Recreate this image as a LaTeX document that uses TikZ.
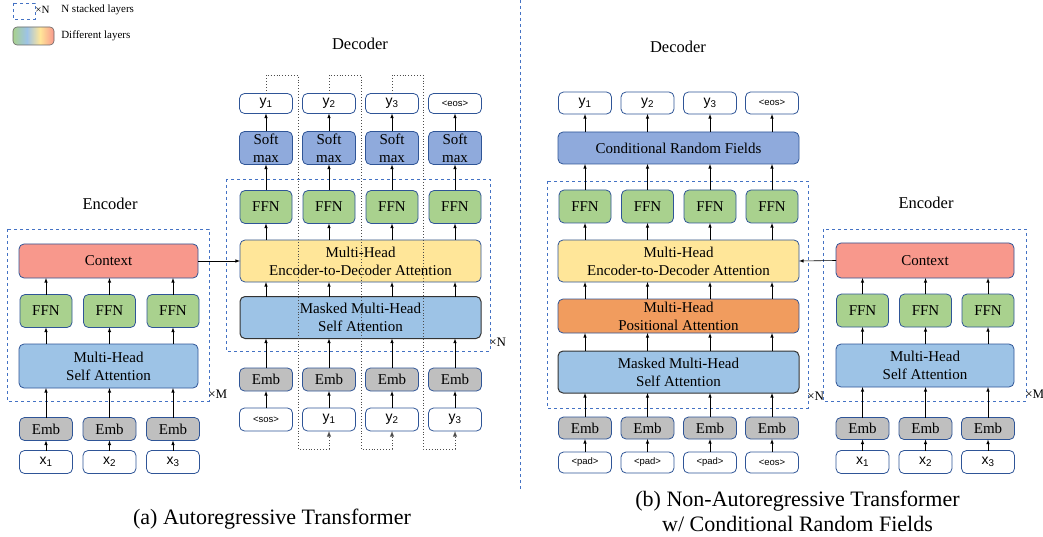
\documentclass[tikz,border=0pt]{standalone}
\usepackage{fontspec}
\setmainfont{Liberation Serif}
\newfontfamily\tokfont{Liberation Sans}
\usetikzlibrary{arrows}
\usetikzlibrary{shapes.misc, positioning}

\definecolor{ctxred}{HTML}{F8988C}
\definecolor{ffngreen}{HTML}{A9D18E}
\definecolor{attblue}{HTML}{9DC3E6}
\definecolor{smblue}{HTML}{8FAADC}
\definecolor{embgray}{HTML}{BFBFBF}
\definecolor{edyellow}{HTML}{FFE699}
\definecolor{posorange}{HTML}{F19C5E}
\definecolor{boxline}{HTML}{2F5597}
\definecolor{stackblue}{HTML}{4472C4}
\pgfdeclarehorizontalshading{layers}{100bp}{color(0bp)=(ffngreen); color(25bp)=(ffngreen); color(42bp)=(attblue); color(58bp)=(edyellow); color(75bp)=(ctxred); color(100bp)=(ctxred)}

\tikzset{
  layer/.style={draw=boxline, line width=0.8pt, rounded corners=5pt, inner sep=0pt, outer sep=0pt, align=center, font=\fontsize{15}{18}\selectfont},
  tok/.style={layer, fill=white, minimum width=53pt, minimum height=23pt, font=\tokfont\fontsize{14}{16}\selectfont},
  eostok/.style={font=\tokfont\fontsize{9.5}{10}\selectfont},
  emb/.style={layer, fill=embgray, minimum width=53pt, minimum height=23pt},
  ffn/.style={layer, fill=ffngreen, minimum width=52pt, minimum height=33pt},
  soft/.style={layer, fill=smblue, minimum width=53pt, minimum height=33pt},
  wide/.style={layer, minimum width=241pt, minimum height=42pt},
  masked/.style={wide, fill=attblue, draw=black!80, line width=1pt},
  stack/.style={draw=stackblue, dashed, line width=0.7pt},
  fb/.style={dotted, line width=0.9pt, black!70},
  part/.style={font=\fontsize{16.5}{20}\selectfont},
  times/.style={anchor=west, inner sep=1pt, font=\fontsize{13}{15}\selectfont},
  captext/.style={align=center, font=\fontsize{22}{25}\selectfont},
  legtext/.style={anchor=west, inner sep=0pt, font=\fontsize{11}{12}\selectfont},
}

\begin{document}
\begin{tikzpicture}[x=1pt, y=-1pt, >=latex, line width=0.6pt]
\useasboundingbox (0,0) rectangle (1043,537);

% legend
\draw[stack] (13,3) rectangle (35,19);
\node[legtext] (lgn) at (35,10) {×N};
\node[legtext] (lgs) at (61,10) {N stacked layers};
\shade[shading=layers, draw=black!60, rounded corners=4pt] (13,27) rectangle (54,45);
\node[legtext] (lgd) at (61,36) {Different layers};

% (a) encoder
\node[tok] (xa1) at (46,462) {x\textsubscript{1}};
\node[tok] (xa2) at (109.5,462) {x\textsubscript{2}};
\node[tok] (xa3) at (173,462) {x\textsubscript{3}};
\node[emb] (ea1) [above=10pt of xa1] {Emb};
\node[emb] (ea2) [above=10pt of xa2] {Emb};
\node[emb] (ea3) [above=10pt of xa3] {Emb};
\node[layer, fill=attblue, minimum width=179pt, minimum height=44pt] (saa) at (108.5,366) {Multi-Head\\Self Attention};
\node[ffn] (fa1) at (46,311) {FFN};
\node[ffn] (fa2) at (109.5,311) {FFN};
\node[ffn] (fa3) at (173,311) {FFN};
\node[layer, fill=ctxred, minimum width=179pt, minimum height=34pt] (ctxa) at (108.5,261) {Context};
\node[part] (enca) at (110,204) {Encoder};
\draw[stack] (7,229) rectangle (209,401);
\node[times] (ma) at (207,394) {×M};

% (a) decoder
\node[tok, eostok] (ina1) at (266,419.5) {<sos>};
\node[tok] (ina2) at (329,419.5) {y\textsubscript{1}};
\node[tok] (ina3) at (392,419.5) {y\textsubscript{2}};
\node[tok] (ina4) at (455,419.5) {y\textsubscript{3}};
\node[emb] (emba1) [above=17pt of ina1] {Emb};
\node[emb] (emba2) [above=17pt of ina2] {Emb};
\node[emb] (emba3) [above=17pt of ina3] {Emb};
\node[emb] (emba4) [above=17pt of ina4] {Emb};
\node[masked] (mska) at (360.5,317.5) {Masked Multi-Head\\Self Attention};
\node[wide, fill=edyellow] (xattna) at (360.5,261) {Multi-Head\\Encoder-to-Decoder Attention};
\node[ffn] (fda1) at (266,207) {FFN};
\node[ffn] (fda2) at (329,207) {FFN};
\node[ffn] (fda3) at (392,207) {FFN};
\node[ffn] (fda4) at (455,207) {FFN};
\node[soft] (sma1) [above=26pt of fda1] {Soft\\max};
\node[soft] (sma2) [above=26pt of fda2] {Soft\\max};
\node[soft] (sma3) [above=26pt of fda3] {Soft\\max};
\node[soft] (sma4) [above=26pt of fda4] {Soft\\max};
\node[tok, minimum height=20pt] (ya1) [above=18pt of sma1] {y\textsubscript{1}};
\node[tok, minimum height=20pt] (ya2) [above=18pt of sma2] {y\textsubscript{2}};
\node[tok, minimum height=20pt] (ya3) [above=18pt of sma3] {y\textsubscript{3}};
\node[tok, eostok, minimum height=20pt] (ya4) [above=18pt of sma4] {<eos>};
\node[part] (deca) at (360,44) {Decoder};
\draw[stack] (226,179) rectangle (490,351);
\node[times] (na) at (488,342) {×N};

\coordinate (ta1) at (298,75);
\coordinate (ba1) at (298,449);
\coordinate (ta2) at (361,75);
\coordinate (ba2) at (361,449);
\coordinate (ta3) at (423,75);
\coordinate (ba3) at (423,449);

% (b) decoder
\node[tok, eostok, minimum height=21pt] (inb1) at (585,462.5) {<pad>};
\node[tok, eostok, minimum height=21pt] (inb2) at (647.5,462.5) {<pad>};
\node[tok, eostok, minimum height=21pt] (inb3) at (710,462.5) {<pad>};
\node[tok, eostok, minimum height=21pt] (inb4) at (772,462.5) {<eos>};
\node[emb, minimum height=22pt] (embb1) [above=13pt of inb1] {Emb};
\node[emb, minimum height=22pt] (embb2) [above=13pt of inb2] {Emb};
\node[emb, minimum height=22pt] (embb3) [above=13pt of inb3] {Emb};
\node[emb, minimum height=22pt] (embb4) [above=13pt of inb4] {Emb};
\node[masked] (mskb) at (678.5,372) {Masked Multi-Head\\Self Attention};
\node[wide, fill=posorange, minimum height=34pt] (posb) at (678.5,316) {Multi-Head\\Positional Attention};
\node[wide, fill=edyellow] (xattnb) at (678.5,261) {Multi-Head\\Encoder-to-Decoder Attention};
\node[ffn] (fdb1) at (585,206.5) {FFN};
\node[ffn] (fdb2) at (647.5,206.5) {FFN};
\node[ffn] (fdb3) at (710,206.5) {FFN};
\node[ffn] (fdb4) at (772,206.5) {FFN};
\node[wide, fill=smblue, minimum height=32pt] (crf) at (678.5,148) {Conditional Random Fields};
\node[tok, minimum height=22pt] (yb1) at (585,103) {y\textsubscript{1}};
\node[tok, minimum height=22pt] (yb2) at (647.5,103) {y\textsubscript{2}};
\node[tok, minimum height=22pt] (yb3) at (710,103) {y\textsubscript{3}};
\node[tok, eostok, minimum height=22pt] (yb4) at (772,103) {<eos>};
\node[part] (decb) at (678,47) {Decoder};
\draw[stack] (547,181) rectangle (808,408);
\node[times] (nb) at (806,396) {×N};

% (b) encoder
\node[tok] (xb1) at (862.5,462) {x\textsubscript{1}};
\node[tok] (xb2) at (925.5,462) {x\textsubscript{2}};
\node[tok] (xb3) at (988,462) {x\textsubscript{3}};
\node[emb, minimum height=22pt] (eb1) [above=11pt of xb1] {Emb};
\node[emb, minimum height=22pt] (eb2) [above=11pt of xb2] {Emb};
\node[emb, minimum height=22pt] (eb3) [above=11pt of xb3] {Emb};
\node[layer, fill=attblue, minimum width=178pt, minimum height=43pt] (sab) at (925,365.5) {Multi-Head\\Self Attention};
\node[ffn] (fb1) at (862.5,310.5) {FFN};
\node[ffn] (fb2) at (925.5,310.5) {FFN};
\node[ffn] (fb3) at (988,310.5) {FFN};
\node[layer, fill=ctxred, minimum width=178pt, minimum height=35pt] (ctxb) at (925,260.5) {Context};
\node[part] (encb) at (926,203) {Encoder};
\draw[stack] (823,229) rectangle (1026,401);
\node[times] (mb) at (1024,394) {×M};

% divider and captions
\draw[stack] (520,0) -- (520,490);
\node[captext] (capa) at (272,519) {(a) Autoregressive Transformer};
\node[captext] (capb) at (797.5,511) {(b) Non-Autoregressive Transformer\\w/ Conditional Random Fields};

% (a) encoder arrows
\draw[->] (xa1) -- (ea1);
\draw[->] (xa2) -- (ea2);
\draw[->] (xa3) -- (ea3);
\draw[->] (ea1) -- (ea1 |- saa.south);
\draw[->] (ea2) -- (ea2 |- saa.south);
\draw[->] (ea3) -- (ea3 |- saa.south);
\draw[->] (fa1 |- saa.north) -- (fa1);
\draw[->] (fa2 |- saa.north) -- (fa2);
\draw[->] (fa3 |- saa.north) -- (fa3);
\draw[->] (fa1) -- (fa1 |- ctxa.south);
\draw[->] (fa2) -- (fa2 |- ctxa.south);
\draw[->] (fa3) -- (fa3 |- ctxa.south);
\draw[->] (ctxa.east) -- (xattna.west);

% (a) decoder arrows
\draw[->] (ina1) -- (emba1);
\draw[->] (ina2) -- (emba2);
\draw[->] (ina3) -- (emba3);
\draw[->] (ina4) -- (emba4);
\draw[->] (emba1) -- (emba1 |- mska.south);
\draw[->] (emba2) -- (emba2 |- mska.south);
\draw[->] (emba3) -- (emba3 |- mska.south);
\draw[->] (emba4) -- (emba4 |- mska.south);
\draw[->] (emba1 |- mska.north) -- (emba1 |- xattna.south);
\draw[->] (emba2 |- mska.north) -- (emba2 |- xattna.south);
\draw[->] (emba3 |- mska.north) -- (emba3 |- xattna.south);
\draw[->] (emba4 |- mska.north) -- (emba4 |- xattna.south);
\draw[->] (fda1 |- xattna.north) -- (fda1);
\draw[->] (fda2 |- xattna.north) -- (fda2);
\draw[->] (fda3 |- xattna.north) -- (fda3);
\draw[->] (fda4 |- xattna.north) -- (fda4);
\draw[->] (fda1) -- (sma1);
\draw[->] (fda2) -- (sma2);
\draw[->] (fda3) -- (sma3);
\draw[->] (fda4) -- (sma4);
\draw[->] (sma1) -- (ya1);
\draw[->] (sma2) -- (ya2);
\draw[->] (sma3) -- (ya3);
\draw[->] (sma4) -- (ya4);
\draw[fb, ->] (ya1.north) |- (ta1) -- (ba1) -| (ina2.south);
\draw[fb, ->] (ya2.north) |- (ta2) -- (ba2) -| (ina3.south);
\draw[fb, ->] (ya3.north) |- (ta3) -- (ba3) -| (ina4.south);

% (b) decoder arrows
\draw[->] (inb1) -- (embb1);
\draw[->] (inb2) -- (embb2);
\draw[->] (inb3) -- (embb3);
\draw[->] (inb4) -- (embb4);
\draw[->] (embb1) -- (embb1 |- mskb.south);
\draw[->] (embb2) -- (embb2 |- mskb.south);
\draw[->] (embb3) -- (embb3 |- mskb.south);
\draw[->] (embb4) -- (embb4 |- mskb.south);
\draw[->] (embb1 |- mskb.north) -- (embb1 |- posb.south);
\draw[->] (embb2 |- mskb.north) -- (embb2 |- posb.south);
\draw[->] (embb3 |- mskb.north) -- (embb3 |- posb.south);
\draw[->] (embb4 |- mskb.north) -- (embb4 |- posb.south);
\draw[->] (embb1 |- posb.north) -- (embb1 |- xattnb.south);
\draw[->] (embb2 |- posb.north) -- (embb2 |- xattnb.south);
\draw[->] (embb3 |- posb.north) -- (embb3 |- xattnb.south);
\draw[->] (embb4 |- posb.north) -- (embb4 |- xattnb.south);
\draw[->] (fdb1 |- xattnb.north) -- (fdb1);
\draw[->] (fdb2 |- xattnb.north) -- (fdb2);
\draw[->] (fdb3 |- xattnb.north) -- (fdb3);
\draw[->] (fdb4 |- xattnb.north) -- (fdb4);
\draw[->] (fdb1) -- (fdb1 |- crf.south);
\draw[->] (fdb2) -- (fdb2 |- crf.south);
\draw[->] (fdb3) -- (fdb3 |- crf.south);
\draw[->] (fdb4) -- (fdb4 |- crf.south);
\draw[->] (yb1 |- crf.north) -- (yb1);
\draw[->] (yb2 |- crf.north) -- (yb2);
\draw[->] (yb3 |- crf.north) -- (yb3);
\draw[->] (yb4 |- crf.north) -- (yb4);

% (b) encoder arrows
\draw[->] (xb1) -- (eb1);
\draw[->] (xb2) -- (eb2);
\draw[->] (xb3) -- (eb3);
\draw[->] (eb1) -- (eb1 |- sab.south);
\draw[->] (eb2) -- (eb2 |- sab.south);
\draw[->] (eb3) -- (eb3 |- sab.south);
\draw[->] (fb1 |- sab.north) -- (fb1);
\draw[->] (fb2 |- sab.north) -- (fb2);
\draw[->] (fb3 |- sab.north) -- (fb3);
\draw[->] (fb1) -- (fb1 |- ctxb.south);
\draw[->] (fb2) -- (fb2 |- ctxb.south);
\draw[->] (fb3) -- (fb3 |- ctxb.south);
\draw[->] (ctxb.west) -- (xattnb.east);
\end{tikzpicture}
\end{document}
